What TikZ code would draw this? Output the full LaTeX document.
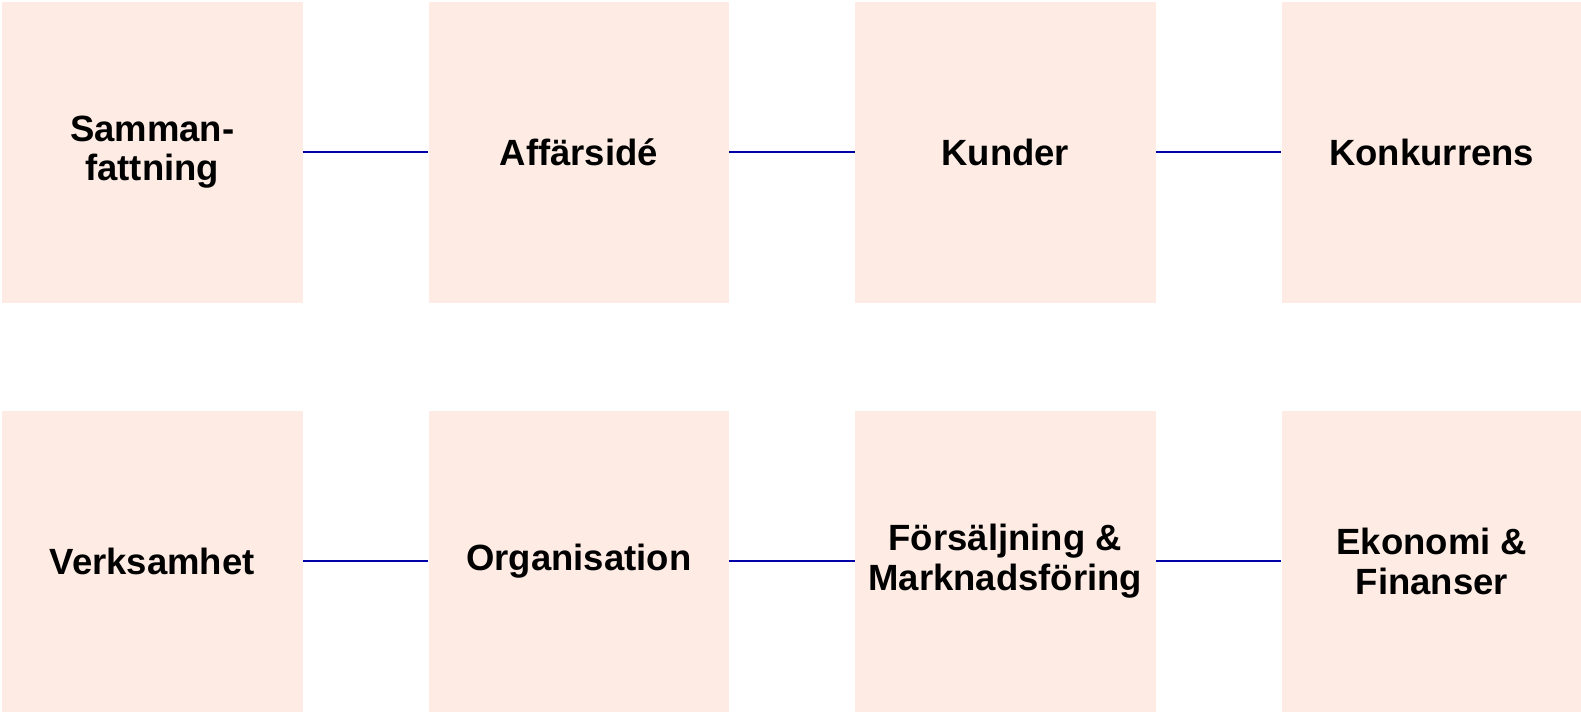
\documentclass[tikz,border=0pt]{standalone}
\usepackage{fontspec}
\setmainfont{Liberation Sans}
\definecolor{boxfill}{HTML}{FDEBE4}
\definecolor{linkblue}{HTML}{0000A8}
\begin{document}
\begin{tikzpicture}[x=1pt,y=-1pt,
  card/.style={fill=boxfill,draw=none,minimum width=300.5pt,minimum height=300.5pt,inner sep=0pt,
    align=center,font=\bfseries\fontsize{36.5}{39.5}\selectfont,text=black},
  link/.style={draw=linkblue,line width=2.4pt}]
\useasboundingbox (0,0) rectangle (1581,714);
\node[card] (a) at (152.25,152.25) {Samman-\\fattning};
\node[card] (b) at (578.75,152.25) {Affärsidé};
\node[card] (c) at (1005.25,152.25) {Kunder};
\node[card] (d) at (1431.75,152.25) {Konkurrens};
\node[card] (e) at (152.25,561.25) {Verksamhet};
\node[card] (f) at (578.75,561.25) {Organisation};
\node[card] (g) at (1005.25,561.25) {Försäljning \&\\Marknadsföring};
\node[card] (h) at (1431.75,561.25) {Ekonomi \&\\Finanser};
\draw[link] (a) -- (b);
\draw[link] (b) -- (c);
\draw[link] (c) -- (d);
\draw[link] (e) -- (f);
\draw[link] (f) -- (g);
\draw[link] (g) -- (h);
\end{tikzpicture}
\end{document}
